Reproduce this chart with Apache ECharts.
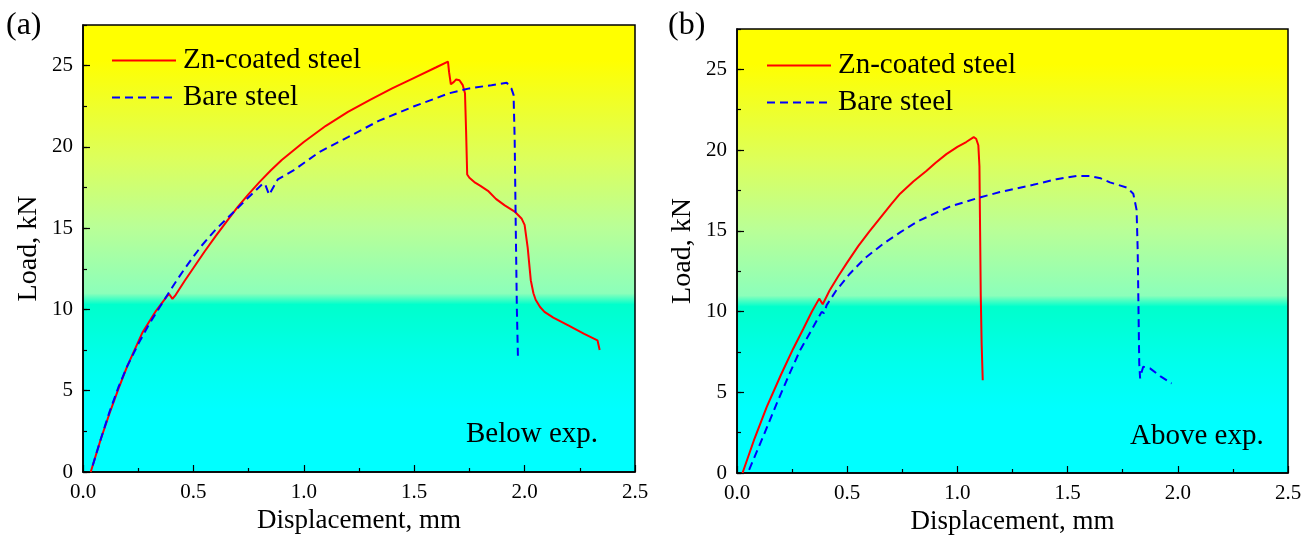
<!DOCTYPE html>
<html>
<head>
<meta charset="utf-8">
<script src="https://cdn.jsdelivr.net/npm/echarts@6/dist/echarts.min.js"></script>
<style>
html,body{margin:0;padding:0;background:#fff;}
#chart{width:1314px;height:540px;}
</style>
</head>
<body>
<div id="chart"></div>
<script>
// ---------- data ----------
const seriesNames = ['Zn-coated steel', 'Bare steel'];
const panelLabels = ['(a)', '(b)'];
const panelNotes = ['Below exp.', 'Above exp.'];
const xTitle = 'Displacement, mm';
const yTitle = 'Load, kN';

// Panel (a) Zn-coated steel
const znA_x = [0.035,0.08,0.12,0.16,0.2,0.27,0.33,0.38,0.39,0.405,0.42,0.46,0.5,0.55,0.6,0.65,0.7,0.75,0.8,0.85,0.9,1.0,1.1,1.2,1.3,1.4,1.5,1.6,1.653,1.658,1.666,1.68,1.69,1.705,1.72,1.73,1.735,1.74,1.75,1.776,1.8,1.834,1.87,1.91,1.957,1.986,2.0,2.014,2.028,2.04,2.05,2.07,2.09,2.13,2.2,2.27,2.33,2.34];
const znA_y = [0,2.0,3.6,5.1,6.5,8.6,9.9,10.8,10.95,10.65,10.9,11.75,12.55,13.55,14.5,15.4,16.3,17.1,17.85,18.55,19.2,20.3,21.3,22.15,22.9,23.6,24.25,24.9,25.25,24.6,23.85,24.0,24.15,24.1,23.8,23.3,21.0,18.3,18.1,17.8,17.6,17.3,16.8,16.4,16.0,15.6,15.2,13.8,11.8,11.0,10.6,10.15,9.85,9.5,9.0,8.5,8.1,7.5];
// Panel (a) Bare steel
const bareA_x = [0.044,0.08,0.12,0.16,0.2,0.253,0.3,0.35,0.387,0.43,0.463,0.5,0.539,0.6,0.69,0.75,0.815,0.825,0.843,0.882,0.958,1.072,1.2,1.339,1.5,1.658,1.75,1.85,1.919,1.94,1.95,1.955,1.96,1.965,1.97];
const bareA_y = [0.4,2.0,3.7,5.2,6.5,7.95,9.1,10.2,11.0,11.9,12.55,13.25,13.95,14.9,16.1,16.9,17.75,17.7,17.05,18.0,18.6,19.7,20.6,21.6,22.5,23.3,23.6,23.8,23.95,23.6,23.2,20.5,15.0,10.0,7.0];
// Panel (b) Zn-coated steel
const znB_x = [0.025,0.08,0.135,0.2,0.255,0.3,0.34,0.373,0.38,0.389,0.42,0.46,0.498,0.55,0.6,0.65,0.7,0.74,0.8,0.859,0.9,0.95,1.0,1.04,1.074,1.085,1.095,1.1,1.103,1.106,1.11,1.115];
const znB_y = [0,2.15,4.1,6.1,7.7,8.9,10.0,10.8,10.8,10.45,11.3,12.2,13.0,14.05,14.95,15.8,16.65,17.3,18.05,18.7,19.2,19.75,20.2,20.5,20.8,20.7,20.3,19.0,15.0,11.0,8.0,5.75];
// Panel (b) Bare steel
const bareB_x = [0.055,0.12,0.18,0.24,0.286,0.34,0.384,0.395,0.407,0.45,0.513,0.58,0.664,0.74,0.815,0.9,0.966,1.1,1.193,1.344,1.375,1.45,1.541,1.6,1.65,1.692,1.768,1.798,1.813,1.818,1.825,1.829,1.835,1.843,1.874,1.92,1.972];
const bareB_y = [0.2,2.3,4.3,6.2,7.6,8.9,9.98,9.9,10.4,11.3,12.36,13.3,14.2,14.9,15.55,16.1,16.5,17.06,17.4,17.85,17.95,18.2,18.4,18.4,18.25,18.0,17.68,17.3,16.3,13.8,6.8,5.86,6.2,6.58,6.48,6.0,5.55];

const xMin = 0, xMax = 2.5, xStep = 0.5;
const yMin = 0, yMax = 27.5, yStep = 5, yMinorStep = 2.5;

// ---------- chart ----------
const FONT = '"Liberation Serif","Times New Roman",serif';
const pair = (xs, ys) => xs.map((x, i) => [x, ys[i]]);

const bg = () => new echarts.graphic.LinearGradient(0, 0, 0, 1, [
  {offset: 0, color: '#FFFF00'},
  {offset: 0.08, color: '#FFFF00'},
  {offset: 0.3, color: '#DCFF5C'},
  {offset: 0.45, color: '#BAFF96'},
  {offset: 0.6, color: '#8CFFBA'},
  {offset: 0.625, color: '#00FFCC'},
  {offset: 0.75, color: '#00FFEC'},
  {offset: 0.86, color: '#00FFFF'},
  {offset: 1, color: '#00FFFF'}
]);

const grids = [
  {left: 83, top: 25, width: 552, height: 447},
  {left: 737, top: 29, width: 551, height: 444}
];

const xAxes = [], yAxes = [], series = [];
grids.forEach((g, i) => {
  Object.assign(g, {show: true, backgroundColor: bg(), borderColor: '#000', borderWidth: 1.5,
    containLabel: false, outerBoundsMode: 'none'});
  xAxes.push({
    gridIndex: i, type: 'value', position: 'bottom', min: xMin, max: xMax, interval: xStep,
    axisLine: {show: true, onZero: false, lineStyle: {color: '#000', width: 1.5}},
    axisTick: {inside: true, length: 7, lineStyle: {color: '#000', width: 1.2}},
    minorTick: {show: true, splitNumber: 2, length: 4, lineStyle: {color: '#000', width: 1.2}},
    splitLine: {show: false},
    axisLabel: {formatter: v => v.toFixed(1), fontSize: 21, color: '#000', fontFamily: FONT, margin: 10},
    name: xTitle, nameLocation: 'middle', nameGap: 35,
    nameTextStyle: {fontSize: 27, color: '#000', fontFamily: FONT}
  });
  // minor-tick axis (every 2.5 kN)
  yAxes.push({
    gridIndex: i, type: 'value', position: 'left', offset: 0, min: yMin, max: yMax, interval: yMinorStep,
    axisLine: {show: true, onZero: false, lineStyle: {color: '#000', width: 1.5}},
    axisTick: {inside: true, length: 4, lineStyle: {color: '#000', width: 1.2}},
    splitLine: {show: false},
    axisLabel: {show: false}
  });
  // major-tick axis with labels (every 5 kN)
  yAxes.push({
    gridIndex: i, type: 'value', position: 'left', offset: 0, min: yMin, max: yMax, interval: yStep,
    axisLine: {show: false, onZero: false},
    axisTick: {inside: true, length: 7, lineStyle: {color: '#000', width: 1.2}},
    splitLine: {show: false},
    axisLabel: {fontSize: 21, color: '#000', fontFamily: FONT, margin: 10, showMaxLabel: false},
    name: yTitle, nameLocation: 'middle', nameGap: 40,
    nameTextStyle: {fontSize: 28, color: '#000', fontFamily: FONT}
  });
});

const data = [[pair(znA_x, znA_y), pair(bareA_x, bareA_y)], [pair(znB_x, znB_y), pair(bareB_x, bareB_y)]];
data.forEach((d, i) => {
  series.push({
    name: seriesNames[0], type: 'line', xAxisIndex: i, yAxisIndex: i * 2,
    data: d[0], showSymbol: false, symbol: 'none', smooth: false, animation: false,
    lineStyle: {color: '#FF0000', width: 2}, itemStyle: {color: '#FF0000'}
  });
  series.push({
    name: seriesNames[1], type: 'line', xAxisIndex: i, yAxisIndex: i * 2,
    data: d[1], showSymbol: false, symbol: 'none', smooth: false, animation: false,
    lineStyle: {color: '#0000FF', width: 2, type: [8, 5]}, itemStyle: {color: '#0000FF'}
  });
});

const legendBase = {
  orient: 'vertical', selectedMode: false, itemWidth: 64, itemHeight: 4, itemGap: 8,
  data: seriesNames,
  itemStyle: {color: 'rgba(0,0,0,0)', borderColor: 'rgba(0,0,0,0)', borderWidth: 0, opacity: 0},
  textStyle: {fontSize: 29, color: '#000', fontFamily: FONT, padding: [0, 0, 0, 2]}
};

const chart = echarts.init(document.getElementById('chart'), null, {renderer: 'canvas'});
chart.setOption({
  animation: false,
  backgroundColor: '#fff',
  grid: grids,
  xAxis: xAxes,
  yAxis: yAxes,
  series: series,
  legend: [
    Object.assign({}, legendBase, {left: 106, top: 41}),
    Object.assign({}, legendBase, {left: 761, top: 46})
  ],
  graphic: [
    {type: 'text', left: 6, top: 10, style: {text: panelLabels[0], font: '32px ' + FONT, fill: '#000'}},
    {type: 'text', left: 668, top: 10, style: {text: panelLabels[1], font: '32px ' + FONT, fill: '#000'}},
    {type: 'text', left: 466, top: 420, style: {text: panelNotes[0], font: '29px ' + FONT, fill: '#000'}},
    {type: 'text', left: 1130, top: 422, style: {text: panelNotes[1], font: '29px ' + FONT, fill: '#000'}}
  ]
});
</script>
</body>
</html>
